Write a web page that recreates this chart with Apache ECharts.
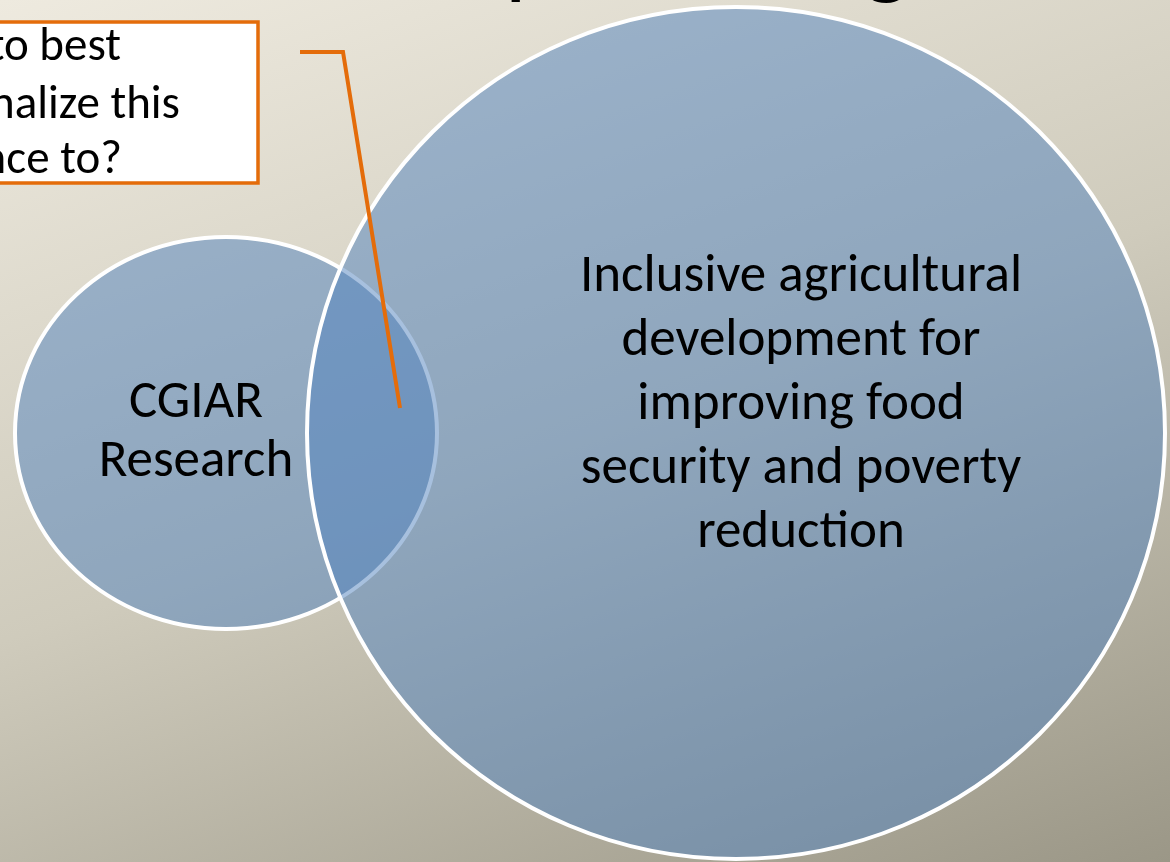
<!DOCTYPE html>
<html>
<head>
<meta charset="utf-8">
<script src="https://cdn.jsdelivr.net/npm/echarts@6/dist/echarts.min.js"></script>
<style>
  html, body { margin: 0; padding: 0; overflow: hidden; }
  #main { width: 1170px; height: 862px; }
</style>
</head>
<body>
<div id="main"></div>
<script>
// venn circles (slide units = px of the crop)
const circleNames = [
  "CGIAR\nResearch",
  "Inclusive agricultural\ndevelopment for\nimproving food\nsecurity and poverty\nreduction"
];
const circleX = [226, 736];
const circleY = [433, 433];
const circleRx = [211, 429];
const circleRy = [196, 426];
const labelX = [196, 801];
const labelY = [433, 406];

// callout (left part is cut off by the crop)
const calloutLines = ["How to best", "operationalize this", "alliance to?"];
const calloutRight = [121, 180, 122];
const calloutY = [48, 106, 161];
const calloutBox = [-400, 22, 258, 183];
const connectorX = [300, 343, 400];
const connectorY = [52, 52, 408];

// descenders of the slide title, just visible at the top edge
const titleGlyphs = ["p", "g"];
const titleX = [505, 864];
const titleY = [-38, -38];

const FONT = 'Carlito, Calibri, "Liberation Sans", sans-serif';
const BLUE = "rgba(79,129,189,0.5)";
const ORANGE = "#e46c0a";

const chart = echarts.init(document.getElementById("main"));

const ellipseData = circleNames.map((n, i) => [circleX[i], circleY[i], circleRx[i], circleRy[i], labelX[i], labelY[i]]);

chart.setOption({
  animation: false,
  backgroundColor: {
    type: "linear", x: 0, y: 0, x2: 411, y2: 1136, global: true,
    colorStops: [
      { offset: 0, color: "#eeeadf" },
      { offset: 0.5, color: "#cfcbbc" },
      { offset: 1, color: "#9b9787" }
    ]
  },
  grid: { left: 0, right: 0, top: 0, bottom: 0 },
  xAxis: { type: "value", min: 0, max: 1170, show: false },
  yAxis: { type: "value", min: 0, max: 862, inverse: true, show: false },
  series: [
    {
      type: "custom",
      z: 2,
      data: ellipseData,
      renderItem: (params, api) => {
        const c = api.coord([api.value(0), api.value(1)]);
        const s = api.size([api.value(2), api.value(3)]);
        return {
          type: "ellipse",
          shape: { cx: c[0], cy: c[1], rx: s[0], ry: s[1] },
          style: { fill: BLUE, stroke: "#fff", lineWidth: 4 }
        };
      }
    },
    {
      type: "custom",
      z: 3,
      data: ellipseData,
      renderItem: (params, api) => {
        const p = api.coord([api.value(4), api.value(5)]);
        return {
          type: "text",
          style: {
            text: circleNames[params.dataIndex],
            x: p[0], y: p[1],
            align: "center", verticalAlign: "middle",
            font: "53px " + FONT,
            lineHeight: params.dataIndex === 0 ? 59 : 64,
            fill: "#000"
          }
        };
      }
    },
    {
      type: "line",
      z: 4,
      symbol: "none",
      data: connectorX.map((x, i) => [x, connectorY[i]]),
      lineStyle: { color: ORANGE, width: 4, join: "miter" }
    },
    {
      type: "custom",
      z: 4,
      data: [calloutBox],
      renderItem: (params, api) => {
        const a = api.coord([api.value(0), api.value(1)]);
        const b = api.coord([api.value(2), api.value(3)]);
        return {
          type: "rect",
          shape: { x: a[0], y: a[1], width: b[0] - a[0], height: b[1] - a[1] },
          style: { fill: "#fff", stroke: ORANGE, lineWidth: 3.5 }
        };
      }
    },
    {
      type: "custom",
      z: 5,
      data: calloutLines.map((t, i) => [calloutRight[i], calloutY[i]]),
      renderItem: (params, api) => {
        const p = api.coord([api.value(0), api.value(1)]);
        return {
          type: "text",
          style: {
            text: calloutLines[params.dataIndex],
            x: p[0], y: p[1],
            align: "right", verticalAlign: "middle",
            font: "47px " + FONT, fill: "#000"
          }
        };
      }
    },
    {
      type: "custom",
      z: 5,
      data: titleGlyphs.map((t, i) => [titleX[i], titleY[i]]),
      renderItem: (params, api) => {
        const p = api.coord([api.value(0), api.value(1)]);
        return {
          type: "text",
          style: {
            text: titleGlyphs[params.dataIndex],
            x: p[0], y: p[1],
            align: "left", verticalAlign: "middle",
            font: "96px " + FONT, fill: "#000"
          }
        };
      }
    }
  ]
});
window.addEventListener("resize", () => chart.resize());
</script>
</body>
</html>
